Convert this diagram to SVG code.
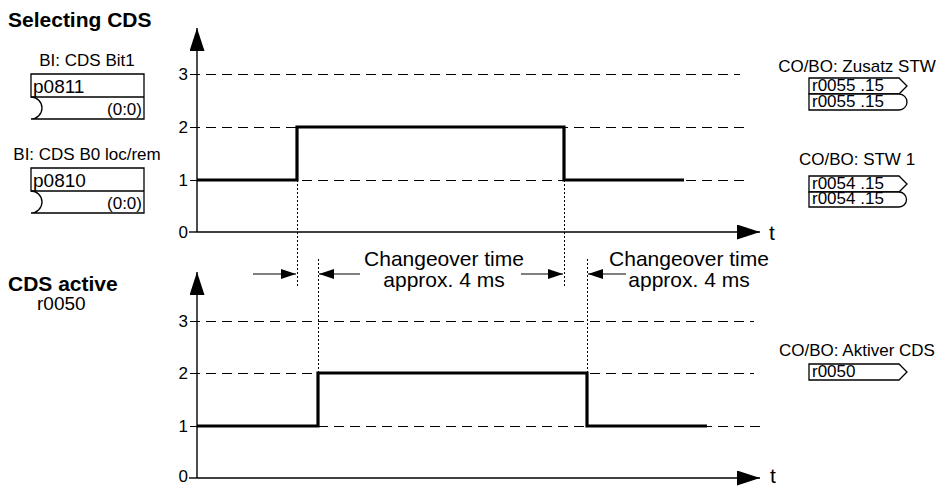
<svg xmlns="http://www.w3.org/2000/svg" width="939" height="486" viewBox="0 0 939 486">
<style>
text{font-family:"Liberation Sans",Arial,Helvetica,sans-serif;fill:#000}
.t17{font-size:17px}
.t19{font-size:19px}
.t21{font-size:21px}
.hd{font-size:21px;font-weight:bold}
.mid{text-anchor:middle}
.end{text-anchor:end}
.box{fill:#fff;stroke:#000;stroke-width:1.3}
.ax{stroke:#000;stroke-width:1.4;fill:none}
.sig{stroke:#000;stroke-width:3.2;fill:none;stroke-linejoin:miter}
.lvl{stroke:#000;stroke-width:1;stroke-dasharray:10 6;fill:none}
.dot{stroke:#000;stroke-width:1;stroke-dasharray:2 2;fill:none}
.arr{stroke:#000;stroke-width:1.2;fill:none}
</style>
<defs>
<marker id="axh" viewBox="0 0 23 15" refX="23" refY="7.5" markerWidth="23" markerHeight="15" markerUnits="userSpaceOnUse" orient="auto"><path d="M0,0 L23,7.5 L0,15 Z" fill="#000"/></marker>
<marker id="sah" viewBox="0 0 15 10" refX="15" refY="5" markerWidth="15" markerHeight="10" markerUnits="userSpaceOnUse" orient="auto"><path d="M0,0 L15,5 L0,10 Z" fill="#000"/></marker>
</defs>

<g id="titles">
<text class="hd" x="8" y="27">Selecting CDS</text>
<text class="hd" x="8" y="291">CDS active</text>
<text class="t19" x="37" y="310">r0050</text>
</g>

<g id="in_p0811">
<text class="t17 mid" x="87" y="66">BI: CDS Bit1</text>
<path class="box" d="M31,74 H144 V119 H31 A11 11 0 0 0 31,97 Z"/>
<path class="box" d="M31,97 H144"/>
<text class="t19" x="33" y="93">p0811</text>
<text class="t17 end" x="142" y="115">(0:0)</text>
</g>

<g id="in_p0810">
<text class="t17 mid" x="87" y="160">BI: CDS B0 loc/rem</text>
<path class="box" d="M31,168 H144 V213 H31 A11 11 0 0 0 31,191 Z"/>
<path class="box" d="M31,191 H144"/>
<text class="t19" x="33" y="187">p0810</text>
<text class="t17 end" x="142" y="209">(0:0)</text>
</g>

<g id="out_r0055">
<text class="t17 mid" x="857" y="72">CO/BO: Zusatz STW</text>
<path class="box" d="M809,78 H899 L907,86 L899,94 H809 Z"/>
<path class="box" d="M809,94 H899 A8 8 0 0 1 899,110 H809 Z"/>
<text class="t17" x="812" y="91">r0055 .15</text>
<text class="t17" x="812" y="107">r0055 .15</text>
</g>

<g id="out_r0054">
<text class="t17 mid" x="857" y="165">CO/BO: STW 1</text>
<path class="box" d="M809,176 H899 L907,184 L899,192 H809 Z"/>
<path class="box" d="M809,192 H899 A7.5 7.5 0 0 1 899,207 H809 Z"/>
<text class="t17" x="812" y="189">r0054 .15</text>
<text class="t17" x="812" y="204">r0054 .15</text>
</g>

<g id="out_r0050">
<text class="t17 mid" x="857" y="356">CO/BO: Aktiver CDS</text>
<path class="box" d="M809,364 H899 L907,372 L899,380 H809 Z"/>
<text class="t17" x="812" y="377">r0050</text>
</g>

<g id="chart_top">
<path class="lvl" d="M190,74.5 H740 M190,127.5 H749 M190,180.5 H749"/>
<path class="ax" d="M189,232 H197"/>
<path class="ax" d="M197,232 V28" marker-end="url(#axh)"/>
<path class="ax" d="M197,232 H760" marker-end="url(#axh)"/>
<text class="t17 end" x="188" y="80">3</text>
<text class="t17 end" x="188" y="133">2</text>
<text class="t17 end" x="188" y="186">1</text>
<text class="t17 end" x="188" y="238">0</text>
<text class="t21" x="769" y="240">t</text>
<path class="sig" d="M197,180 H297 V127 H564 V180 H684"/>
</g>

<g id="chart_bottom">
<path class="lvl" d="M190,321.5 H754 M190,373.5 H754 M190,426.5 H760"/>
<path class="ax" d="M189,478 H197"/>
<path class="ax" d="M197,478 V272" marker-end="url(#axh)"/>
<path class="ax" d="M197,478 H760" marker-end="url(#axh)"/>
<text class="t17 end" x="188" y="327">3</text>
<text class="t17 end" x="188" y="379">2</text>
<text class="t17 end" x="188" y="432">1</text>
<text class="t17 end" x="188" y="482">0</text>
<text class="t21" x="770" y="483">t</text>
<path class="sig" d="M197,426 H318 V373 H587 V426 H707"/>
</g>

<g id="connectors">
<path class="dot" d="M297.5,180 V287 M564.5,180 V287 M318.5,259 V373 M587.5,259 V373"/>
<path class="arr" d="M253,274 H296" marker-end="url(#sah)"/>
<path class="arr" d="M360,274 H319" marker-end="url(#sah)"/>
<path class="arr" d="M521,274 H563" marker-end="url(#sah)"/>
<path class="arr" d="M626,274 H588" marker-end="url(#sah)"/>
</g>

<g id="notes">
<text class="t21 mid" x="444" y="266">Changeover time</text>
<text class="t21 mid" x="444" y="287">approx. 4 ms</text>
<text class="t21 mid" x="689" y="266">Changeover time</text>
<text class="t21 mid" x="689" y="287">approx. 4 ms</text>
</g>
</svg>
